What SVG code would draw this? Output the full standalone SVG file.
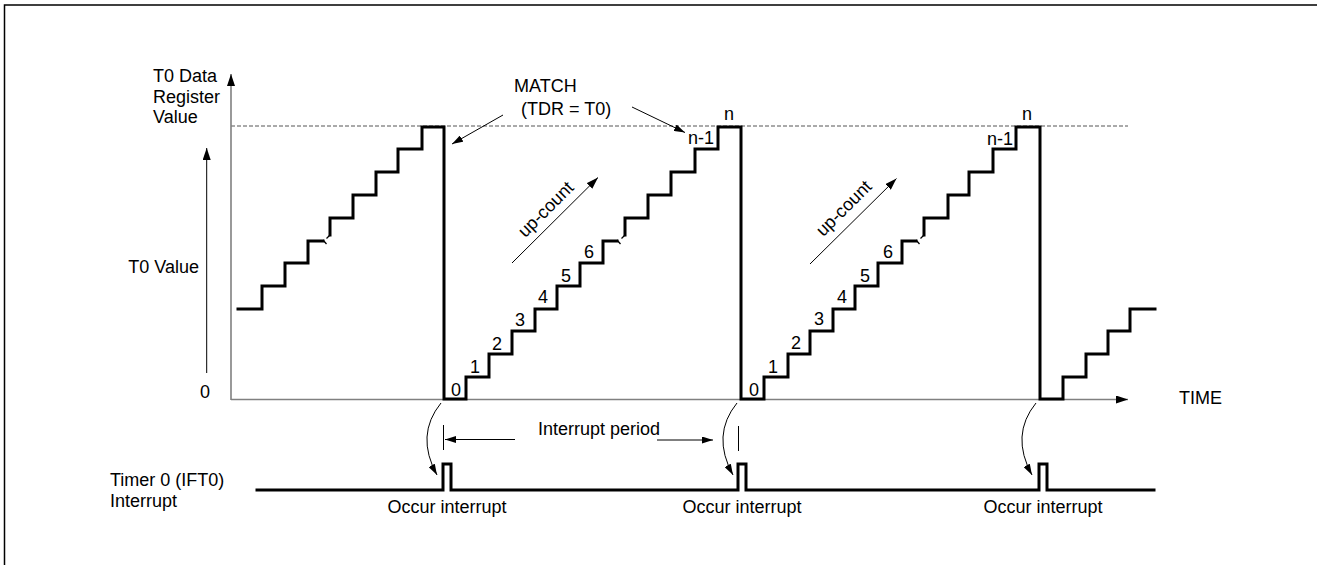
<svg xmlns="http://www.w3.org/2000/svg" width="1317" height="565" viewBox="0 0 1317 565">
<style>
text{font-family:"Liberation Sans",Arial,sans-serif;font-size:18px;fill:#000}
.mid{text-anchor:middle}
.end{text-anchor:end}
.stair{fill:none;stroke:#000;stroke-width:3;stroke-linejoin:miter;stroke-linecap:square}
.thin{fill:none;stroke:#000;stroke-width:1}
.axis{fill:none;stroke:#808080;stroke-width:1.6}
.tick{fill:none;stroke:#000;stroke-width:1.3}
</style>
<defs>
<marker id="ah" markerUnits="userSpaceOnUse" markerWidth="12" markerHeight="8" refX="12" refY="4" orient="auto">
<path d="M0,0 L12,4 L0,8 z" fill="#000"/>
</marker>
<marker id="ahs" markerUnits="userSpaceOnUse" markerWidth="11" markerHeight="7" refX="11" refY="3.5" orient="auto">
<path d="M0,0 L11,3.5 L0,7 z" fill="#000"/>
</marker>
</defs>
<rect width="1317" height="565" fill="#fff"/>
<g id="frame">
<path d="M4.5,565 V5 H1317" fill="none" stroke="#000" stroke-width="1.5"/>
</g>
<g id="axes">
<line x1="231" y1="126" x2="1128" y2="126" stroke="#555" stroke-width="1" stroke-dasharray="4,2"/>
<path class="axis" d="M231,400 V74" marker-end="url(#ah)"/>
<path class="axis" d="M231,399.5 H1128" marker-end="url(#ah)"/>
<path class="thin" d="M206.7,373 V148" marker-end="url(#ah)"/>
</g>
<g id="labels-left">
<text x="153" y="82">T0 Data</text>
<text x="153" y="103">Register</text>
<text x="153" y="123">Value</text>
<text class="end" x="199" y="273">T0 Value</text>
<text class="mid" x="205" y="398">0</text>
<text x="1179" y="404">TIME</text>
<text x="110" y="486">Timer 0 (IFT0)</text>
<text x="110" y="507">Interrupt</text>
</g>
<g id="match">
<text x="514" y="92">MATCH</text>
<text x="521" y="115">(TDR = T0)</text>
<path class="thin" d="M503,115 L452,144" marker-end="url(#ahs)"/>
<path class="thin" d="M632,107 L685,132.5" marker-end="url(#ahs)"/>
</g>
<g id="staircase">
<path class="stair" d="M238,309 H262 V286 H285 V263 H308 V241 H323"/>
<path class="stair" d="M330,235 V218 H353 V195 H376 V172 H398 V149 H422 V127 H444 V399 H466 V377 H489 V354 H512 V331 H535 V309 H557 V286 H580 V263 H603 V241 H617"/>
<path class="stair" d="M625,235 V218 H648 V195 H671 V172 H695 V149 H718 V127 H741 V399 H764 V377 H788 V354 H810 V331 H833 V309 H855 V286 H878 V263 H902 V241 H916"/>
<path class="stair" d="M924,235 V218 H948 V195 H969 V172 H993 V149 H1016 V127 H1040 V399 H1063 V377 H1086 V354 H1108 V331 H1130 V309 H1155"/>
<path class="tick" d="M323,240 L326.5,244 M330,235 L326.5,238.5"/>
<path class="tick" d="M617,240 L620.5,244 M625,235 L621.5,238.5"/>
<path class="tick" d="M916,240 L919.5,244 M924,235 L920.5,238.5"/>
</g>
<g id="count-labels">
<text class="mid" x="456" y="396">0</text>
<text class="mid" x="475" y="373">1</text>
<text class="mid" x="497" y="350">2</text>
<text class="mid" x="520" y="326">3</text>
<text class="mid" x="543" y="303">4</text>
<text class="mid" x="566" y="282">5</text>
<text class="mid" x="589" y="258">6</text>
<text class="mid" x="701" y="144">n-1</text>
<text class="mid" x="729" y="120">n</text>
<text class="mid" x="754" y="396">0</text>
<text class="mid" x="773" y="373">1</text>
<text class="mid" x="796" y="349">2</text>
<text class="mid" x="819" y="325">3</text>
<text class="mid" x="842" y="303">4</text>
<text class="mid" x="865" y="282">5</text>
<text class="mid" x="888" y="258">6</text>
<text class="mid" x="1000" y="145">n-1</text>
<text class="mid" x="1027" y="120">n</text>
</g>
<g id="upcount">
<path class="thin" d="M512,263 L598,177.5" stroke="#444" marker-end="url(#ah)"/>
<text class="mid" transform="translate(550,213.5) rotate(-45)">up-count</text>
<path class="thin" d="M810,264 L896.5,178.5" stroke="#444" marker-end="url(#ah)"/>
<text class="mid" transform="translate(848,212.5) rotate(-45)">up-count</text>
</g>
<g id="interrupt">
<path class="stair" d="M257,490 H443 V464 H451 V490 H738 V464 H746 V490 H1039 V464 H1047 V490 H1154"/>
<path class="thin" d="M441,403 Q415,435 437,475" marker-end="url(#ahs)"/>
<path class="thin" d="M737,403 Q711,435 733,475" marker-end="url(#ahs)"/>
<path class="thin" d="M1036,403 Q1010,435 1032,475" marker-end="url(#ahs)"/>
<line class="thin" x1="443.5" y1="425" x2="443.5" y2="450"/>
<line class="thin" x1="738.5" y1="426" x2="738.5" y2="451"/>
<path class="thin" d="M515,439.5 H445" marker-end="url(#ahs)"/>
<path class="thin" d="M657,440 H713" marker-end="url(#ahs)"/>
<text x="538" y="435">Interrupt period</text>
<text class="mid" x="447" y="513">Occur interrupt</text>
<text class="mid" x="742" y="513">Occur interrupt</text>
<text class="mid" x="1043" y="513">Occur interrupt</text>
</g>
</svg>
